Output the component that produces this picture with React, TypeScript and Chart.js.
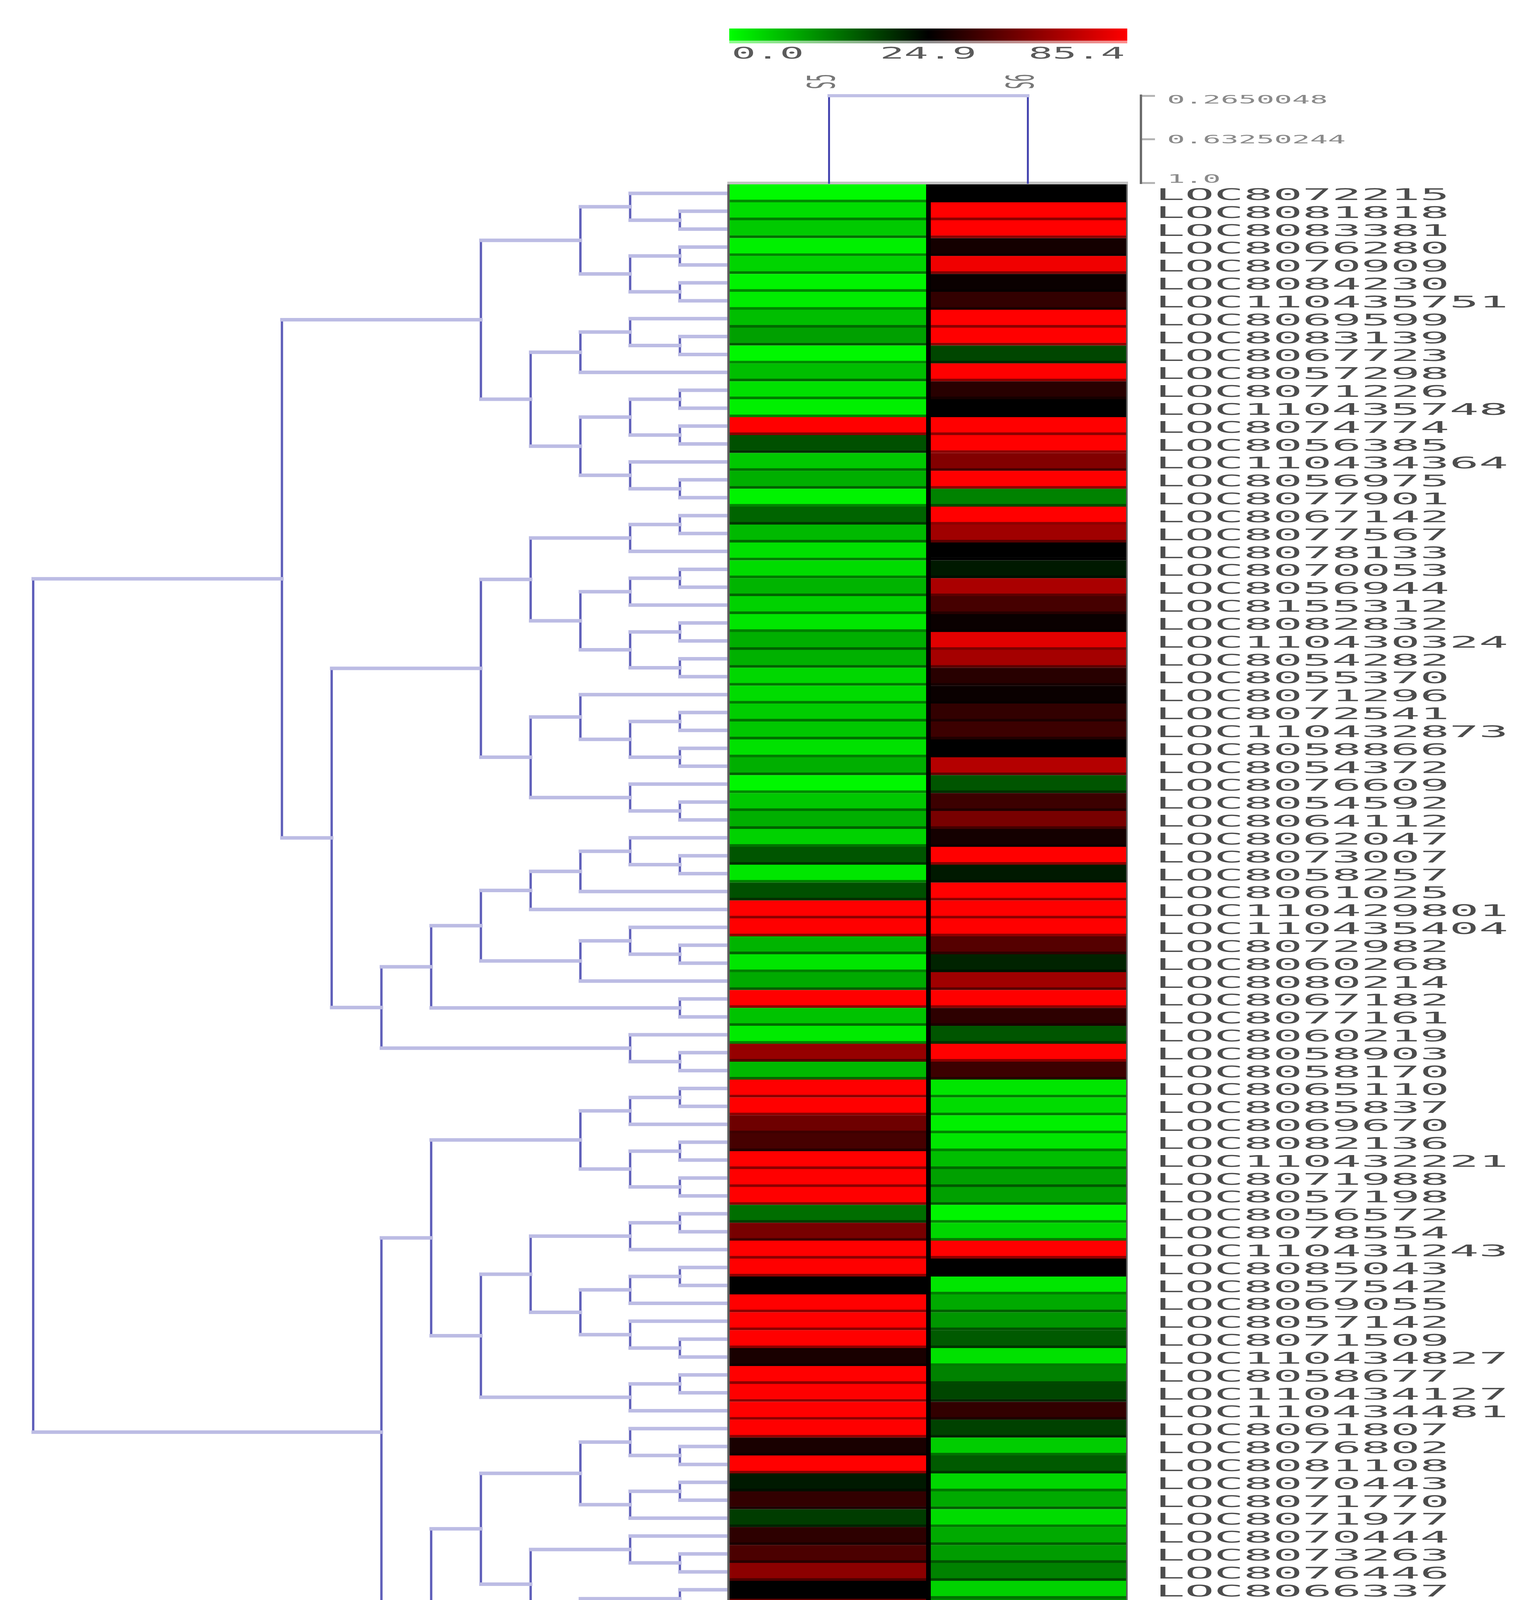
import React, { useEffect, useRef } from 'react';
import { Chart, registerables } from 'chart.js';

Chart.register(...registerables);

// ---------------- data ----------------
const rowLabels = [
  'LOC8072215', 'LOC8081818', 'LOC8083381', 'LOC8066280', 'LOC8070909', 'LOC8084230', 'LOC110435751', 'LOC8069599', 'LOC8083139', 'LOC8067723',
  'LOC8057298', 'LOC8071226', 'LOC110435748', 'LOC8074774', 'LOC8056385', 'LOC110434364', 'LOC8056975', 'LOC8077901', 'LOC8067142', 'LOC8077567',
  'LOC8078133', 'LOC8070053', 'LOC8056944', 'LOC8155312', 'LOC8082832', 'LOC110430324', 'LOC8054282', 'LOC8055370', 'LOC8071296', 'LOC8072541',
  'LOC110432873', 'LOC8058866', 'LOC8054372', 'LOC8076609', 'LOC8054592', 'LOC8064112', 'LOC8062047', 'LOC8073007', 'LOC8058257', 'LOC8061025',
  'LOC110429801', 'LOC110435404', 'LOC8072982', 'LOC8060268', 'LOC8080214', 'LOC8067182', 'LOC8077161', 'LOC8060219', 'LOC8058903', 'LOC8058170',
  'LOC8065110', 'LOC8085837', 'LOC8069670', 'LOC8082136', 'LOC110432221', 'LOC8071988', 'LOC8057198', 'LOC8056572', 'LOC8078554', 'LOC110431243',
  'LOC8085043', 'LOC8057542', 'LOC8069055', 'LOC8057142', 'LOC8071509', 'LOC110434827', 'LOC8058677', 'LOC110434127', 'LOC110434481', 'LOC8061807',
  'LOC8076802', 'LOC8081108', 'LOC8070443', 'LOC8071770', 'LOC8071977', 'LOC8070444', 'LOC8073263', 'LOC8076446', 'LOC8066337', 'LOC8072046',
  'LOC8084079', 'LOC8062297', 'LOC8062261', 'LOC8059920', 'LOC8084078', 'LOC8055178', 'LOC8071666', 'LOC8063748', 'LOC8081890',
];

const columnLabels = ['S5', 'S6'];

const s5Values = [
  0.5, 3.4, 5.2, 1.5, 4.2, 1.2, 1.8, 6.3, 9.3, 0.8,
  6.3, 2.9, 1.5, 85.4, 17.1, 5.4, 7.8, 1.2, 15.1, 6.8,
  2.9, 3.4, 7.3, 4.4, 2.4, 7.8, 7.6, 3.9, 3.4, 4.9,
  5.4, 2.9, 7.8, 0.8, 5.4, 7.8, 4.4, 16.6, 2.4, 17.1,
  85.4, 85.4, 7.3, 2.4, 8.3, 85.4, 5.9, 2.0, 60.5, 6.8,
  85.4, 85.4, 51.0, 41.5, 85.4, 85.4, 85.4, 14.2, 53.4, 85.4,
  85.4, 24.9, 85.4, 85.4, 85.4, 30.8, 85.4, 85.4, 85.4, 85.4,
  30.8, 85.4, 22.5, 36.8, 19.0, 35.6, 42.7, 58.1, 24.9, 47.4,
  41.5, 85.4, 85.4, 66.4, 85.4, 36.8, 47.4, 85.4, 51.0,
];

const s6Values = [
  24.9, 85.4, 85.4, 29.6, 81.8, 27.3, 36.8, 85.4, 85.4, 18.1,
  85.4, 34.4, 24.9, 85.4, 85.4, 55.7, 85.4, 12.2, 85.4, 62.9,
  24.9, 22.5, 65.2, 41.5, 27.3, 78.3, 64.0, 34.4, 27.3, 36.8,
  39.1, 24.9, 67.6, 16.6, 39.1, 53.4, 29.6, 85.4, 22.5, 85.4,
  85.4, 85.4, 45.1, 21.5, 62.9, 85.4, 35.6, 16.6, 85.4, 39.1,
  2.4, 3.4, 1.5, 2.4, 6.3, 9.3, 9.3, 1.0, 3.9, 85.4,
  24.9, 2.4, 8.3, 10.3, 16.1, 2.9, 12.2, 18.1, 36.8, 18.6,
  4.9, 16.1, 3.9, 8.3, 3.4, 8.3, 9.7, 12.2, 4.4, 11.2,
  9.7, 43.9, 85.4, 17.1, 24.9, 11.2, 15.1, 53.4, 17.1,
];

const colorKeyStops = [0.0, 24.9, 85.4];
const colorKeyLabels = ['0.0', '24.9', '85.4'];

const columnMergeDistance = 0.2650048;
const distanceTicks = [0.2650048, 0.63250244, 1.0];
const distanceTickLabels = ['0.2650048', '0.63250244', '1.0'];

// row tree: [mergeLevel, left, right]; leaves are row indices
type TreeNode = number | [number, TreeNode, TreeNode];
const rowTree: TreeNode = [14,
  [9,
    [5,
      [3, [2, 0, [1, 1, 2]], [2, [1, 3, 4], [1, 5, 6]]],
      [4, [3, [2, 7, [1, 8, 9]], 10], [3, [2, [1, 11, 12], [1, 13, 14]], [2, 15, [1, 16, 17]]]],
    ],
    [8,
      [5,
        [4, [2, [1, 18, 19], 20], [3, [2, [1, 21, 22], 23], [2, [1, 24, 25], [1, 26, 27]]]],
        [4, [3, 28, [2, [1, 29, 30], [1, 31, 32]]], [2, 33, [1, 34, 35]]],
      ],
      [7,
        [6,
          [5, [4, [3, [2, 36, [1, 37, 38]], 39], 40], [3, [2, 41, [1, 42, 43]], 44]],
          [1, 45, 46],
        ],
        [2, 47, [1, 48, 49]],
      ],
    ],
  ],
  [7,
    [6,
      [3, [2, [1, 50, 51], 52], [2, [1, 53, 54], [1, 55, 56]]],
      [5,
        [4, [2, [1, 57, 58], 59], [3, [2, [1, 60, 61], 62], [2, 63, [1, 64, 65]]]],
        [2, [1, 66, 67], 68],
      ],
    ],
    [6,
      [5,
        [3, [2, 69, [1, 70, 71]], [2, [1, 72, 73], 74]],
        [4, [2, 75, [1, 76, 77]], [3, [1, 78, 79], [2, 80, [1, 81, 82]]]],
      ],
      [3, [2, 83, [1, 84, 85]], [2, [1, 86, 87], 88]],
    ],
  ],
];
const rowTreeMaxLevel = 14;

// ---------------- layout (pixels) ----------------
const W = 3935;
const H = 4604;
const HM_TOP = 472;
const HM_BOTTOM = 4551;
const DEND_LEFT = 85;
const HM_LEFT = 1868;
const HM_RIGHT = 2886;
const AXIS_X = 2921;
const LABEL_X = 2958;
const RIGHT_CANVAS_LEFT = 1860;
const DEND_CANVAS_W = 1880;
const FONT = '"DejaVu Sans Mono", "Liberation Mono", monospace';

// ---------------- helpers ----------------
function rgbFor(v: number, f = 1): string {
  const [lo, mid, hi] = colorKeyStops;
  if (v <= mid) {
    const g = Math.round(255 * Math.max(0, Math.min(1, (mid - v) / (mid - lo))) * f);
    return `rgb(0,${g},0)`;
  }
  const r = Math.round(255 * Math.max(0, Math.min(1, (v - mid) / (hi - mid))) * f);
  return `rgb(${r},0,0)`;
}

function drawStretched(
  ctx: CanvasRenderingContext2D, text: string, x: number, y: number,
  size: number, sx: number, align: 'left' | 'center' | 'right', color: string,
) {
  ctx.save();
  ctx.font = `${size}px ${FONT}`;
  ctx.fillStyle = color;
  ctx.textAlign = 'left';
  ctx.textBaseline = 'alphabetic';
  const w = ctx.measureText(text).width * sx;
  const x0 = align === 'left' ? x : align === 'center' ? x - w / 2 : x - w;
  ctx.translate(x0, y);
  ctx.scale(sx, 1);
  ctx.fillText(text, 0, 0);
  ctx.restore();
}

type Pt = { x: number; y: number };
const GAP: Pt = { x: NaN, y: NaN };

function buildTree(node: TreeNode, hs: Pt[], vs: Pt[]): { y: number; h: number } {
  if (typeof node === 'number') return { y: node, h: 0 };
  const [h, a, b] = node;
  const A = buildTree(a, hs, vs);
  const B = buildTree(b, hs, vs);
  hs.push({ x: A.h, y: A.y }, { x: h, y: A.y }, GAP, { x: B.h, y: B.y }, { x: h, y: B.y }, GAP);
  vs.push({ x: h, y: A.y }, { x: h, y: B.y }, GAP);
  return { y: (A.y + B.y) / 2, h };
}

const lineDs = (data: Pt[], color: string, width: number) => ({
  type: 'line' as const,
  data,
  borderColor: color,
  borderWidth: width,
  pointRadius: 0,
  pointHoverRadius: 0,
  fill: false,
  tension: 0,
  spanGaps: false,
  clip: false as const,
  borderCapStyle: 'square' as const,
});

const basePlugins = { legend: { display: false }, tooltip: { enabled: false } };

export default function App() {
  const dendRef = useRef<HTMLCanvasElement>(null);
  const heatRef = useRef<HTMLCanvasElement>(null);
  const topRef = useRef<HTMLCanvasElement>(null);
  const keyRef = useRef<HTMLCanvasElement>(null);

  useEffect(() => {
    const charts: Chart[] = [];

    // ---- row dendrogram ----
    const hs: Pt[] = [];
    const vs: Pt[] = [];
    buildTree(rowTree, hs, vs);
    charts.push(new Chart(dendRef.current!, {
      type: 'line',
      data: {
        datasets: [
          lineDs(hs, 'rgb(188,188,228)', 9),
          lineDs(vs, 'rgb(96,96,186)', 6),
        ],
      },
      options: {
        responsive: false,
        animation: false,
        devicePixelRatio: 1,
        layout: { padding: { left: DEND_LEFT, right: DEND_CANVAS_W - HM_LEFT, top: HM_TOP, bottom: H - HM_BOTTOM } },
        scales: {
          x: { type: 'linear', min: 0, max: rowTreeMaxLevel, reverse: true, display: false },
          y: { type: 'linear', min: -0.5, max: rowLabels.length - 0.5, reverse: true, display: false },
        },
        plugins: basePlugins,
      },
    }));

    // ---- heatmap + row labels ----
    const heatW = W - RIGHT_CANVAS_LEFT;
    const heatDecor = {
      id: 'heatDecor',
      afterDatasetsDraw(chart: Chart) {
        const { ctx, chartArea: a, scales } = chart;
        const xs = scales.x;
        const ys = scales.y;
        ctx.save();
        // separator between columns
        ctx.fillStyle = '#000';
        const sx = xs.getPixelForValue(1);
        ctx.fillRect(sx - 6, a.top, 12, a.bottom - a.top);
        // borders
        ctx.fillStyle = '#c2c2c2';
        ctx.fillRect(a.left - 6, a.top - 7, a.right - a.left + 8, 7);
        ctx.fillStyle = '#5e5e5e';
        ctx.fillRect(a.left - 6, a.top, 6, a.bottom - a.top);
        ctx.fillRect(a.right - 3, a.top, 4, a.bottom - a.top);
        ctx.fillStyle = '#d8d8d8';
        ctx.fillRect(a.left - 6, a.bottom, a.right - a.left + 8, 4);
        ctx.restore();
        // row labels
        const lx = LABEL_X - RIGHT_CANVAS_LEFT;
        rowLabels.forEach((lab, i) => {
          const y = ys.getPixelForValue(i);
          drawStretched(ctx, lab, lx, y + 17, 41, 3.05, 'left', '#4d4d4d');
        });
      },
    };
    const colValues = [s5Values, s6Values];
    charts.push(new Chart(heatRef.current!, {
      type: 'bar',
      data: {
        labels: rowLabels,
        datasets: colValues.map((vals, ci) => ({
          label: columnLabels[ci],
          data: vals.map(() => [ci, ci + 1] as [number, number]),
          backgroundColor: vals.map((v) => rgbFor(v)),
          borderColor: vals.map((v) => rgbFor(v, 0.55)),
          borderWidth: { top: 0, left: 0, right: 0, bottom: 7 },
          borderSkipped: false as const,
          barPercentage: 1,
          categoryPercentage: 1,
          grouped: false,
        })),
      },
      options: {
        indexAxis: 'y',
        responsive: false,
        animation: false,
        devicePixelRatio: 1,
        layout: { padding: { left: HM_LEFT - RIGHT_CANVAS_LEFT, right: heatW - (HM_RIGHT - RIGHT_CANVAS_LEFT), top: HM_TOP, bottom: H - HM_BOTTOM } },
        scales: {
          x: { type: 'linear', min: 0, max: columnLabels.length, display: false },
          y: { type: 'category', display: false, offset: true },
        },
        plugins: basePlugins,
      },
      plugins: [heatDecor],
    }));

    // ---- column dendrogram + distance axis ----
    const topH = HM_TOP;
    const colXMax = columnLabels.length * (AXIS_X - HM_LEFT) / (HM_RIGHT - HM_LEFT);
    const topDecor = {
      id: 'topDecor',
      afterDraw(chart: Chart) {
        const { ctx, scales } = chart;
        const xs = scales.x;
        const ys = scales.y;
        // distance labels
        const lx = 2988 - RIGHT_CANVAS_LEFT;
        distanceTicks.forEach((v, i) => {
          const y = ys.getPixelForValue(v);
          const base = i === 0 ? y + 20 : i === distanceTicks.length - 1 ? y : y + 10;
          drawStretched(ctx, distanceTickLabels[i], lx, base, 31, 2.45, 'left', '#8a8a8a');
        });
        // rotated column labels
        columnLabels.forEach((lab, i) => {
          const cx = xs.getPixelForValue(i + 0.5) - 10;
          ctx.save();
          ctx.font = `32px ${FONT}`;
          ctx.fillStyle = '#777';
          ctx.textBaseline = 'middle';
          ctx.textAlign = 'left';
          ctx.translate(cx, 228);
          ctx.scale(3, 1);
          ctx.rotate(-Math.PI / 2);
          ctx.fillText(lab, 0, 0);
          ctx.restore();
        });
      },
    };
    const d = columnMergeDistance;
    charts.push(new Chart(topRef.current!, {
      type: 'line',
      data: {
        datasets: [
          lineDs([{ x: 0.5, y: d }, { x: 1.5, y: d }], 'rgb(192,192,230)', 8),
          lineDs([{ x: 0.5, y: 1 }, { x: 0.5, y: d }, GAP, { x: 1.5, y: d }, { x: 1.5, y: 1 }], 'rgb(70,70,176)', 5),
        ],
      },
      options: {
        responsive: false,
        animation: false,
        devicePixelRatio: 1,
        layout: { padding: { left: HM_LEFT - RIGHT_CANVAS_LEFT, right: 0, top: 245, bottom: 4 } },
        scales: {
          x: { type: 'linear', min: 0, max: colXMax, display: false },
          y: {
            type: 'linear',
            position: 'right',
            min: distanceTicks[0],
            max: distanceTicks[distanceTicks.length - 1],
            reverse: true,
            border: { display: true, color: '#6c6c6c', width: 6 },
            grid: { drawOnChartArea: false, drawTicks: true, tickLength: 36, color: '#b4b4b4', lineWidth: 5 },
            ticks: { display: false },
            afterBuildTicks: (s: any) => { s.ticks = distanceTicks.map((v) => ({ value: v })); },
            afterFit: (s: any) => { s.width = heatW - (AXIS_X - RIGHT_CANVAS_LEFT); },
          },
        },
        plugins: basePlugins,
      },
      plugins: [topDecor],
    }));

    // ---- colour key ----
    const keyW = 1100;
    const keyH = 160;
    const keyDecor = {
      id: 'keyDecor',
      afterDraw(chart: Chart) {
        const { ctx, chartArea: a, scales } = chart;
        const xs = scales.x;
        const g = ctx.createLinearGradient(a.left, 0, a.right, 0);
        colorKeyStops.forEach((v, i) => g.addColorStop(i / (colorKeyStops.length - 1), rgbFor(v)));
        ctx.save();
        ctx.globalAlpha = 0.45;
        ctx.fillStyle = g;
        ctx.fillRect(a.left, a.bottom, a.right - a.left, 7);
        ctx.restore();
        colorKeyLabels.forEach((lab, i) => {
          const x = xs.getPixelForValue(i);
          const align = i === 0 ? 'left' : i === colorKeyLabels.length - 1 ? 'right' : 'center';
          drawStretched(ctx, lab, x + (i === 0 ? 6 : i === colorKeyLabels.length - 1 ? -6 : 0), 150, 41, 2.5, align, '#5a5a5a');
        });
      },
    };
    charts.push(new Chart(keyRef.current!, {
      type: 'bar',
      data: {
        labels: ['key'],
        datasets: [{
          data: [[0, colorKeyStops.length - 1] as [number, number]],
          backgroundColor: (c: any) => {
            const { ctx, chartArea } = c.chart;
            if (!chartArea) return '#000';
            const g = ctx.createLinearGradient(chartArea.left, 0, chartArea.right, 0);
            colorKeyStops.forEach((v, i) => g.addColorStop(i / (colorKeyStops.length - 1), rgbFor(v)));
            return g;
          },
          borderWidth: 0,
          barPercentage: 1,
          categoryPercentage: 1,
        }],
      },
      options: {
        indexAxis: 'y',
        responsive: false,
        animation: false,
        devicePixelRatio: 1,
        layout: { padding: { left: 1867 - RIGHT_CANVAS_LEFT, right: keyW - (HM_RIGHT - RIGHT_CANVAS_LEFT), top: 73, bottom: keyH - 104 } },
        scales: {
          x: { type: 'linear', min: 0, max: colorKeyStops.length - 1, display: false },
          y: { type: 'category', display: false },
        },
        plugins: basePlugins,
      },
      plugins: [keyDecor],
    }));

    return () => charts.forEach((c) => c.destroy());
  }, []);

  const abs = (left: number, top: number, w: number, h: number): React.CSSProperties => ({
    position: 'absolute', left, top, width: w, height: h,
  });

  return (
    <div style={{ position: 'absolute', left: 0, top: 0, width: W, height: H, background: '#fff', overflow: 'hidden' }}>
      <canvas ref={dendRef} width={DEND_CANVAS_W} height={H} style={abs(0, 0, DEND_CANVAS_W, H)} />
      <canvas ref={heatRef} width={W - RIGHT_CANVAS_LEFT} height={H} style={abs(RIGHT_CANVAS_LEFT, 0, W - RIGHT_CANVAS_LEFT, H)} />
      <canvas ref={topRef} width={W - RIGHT_CANVAS_LEFT} height={HM_TOP} style={abs(RIGHT_CANVAS_LEFT, 0, W - RIGHT_CANVAS_LEFT, HM_TOP)} />
      <canvas ref={keyRef} width={1100} height={160} style={abs(RIGHT_CANVAS_LEFT, 0, 1100, 160)} />
    </div>
  );
}
